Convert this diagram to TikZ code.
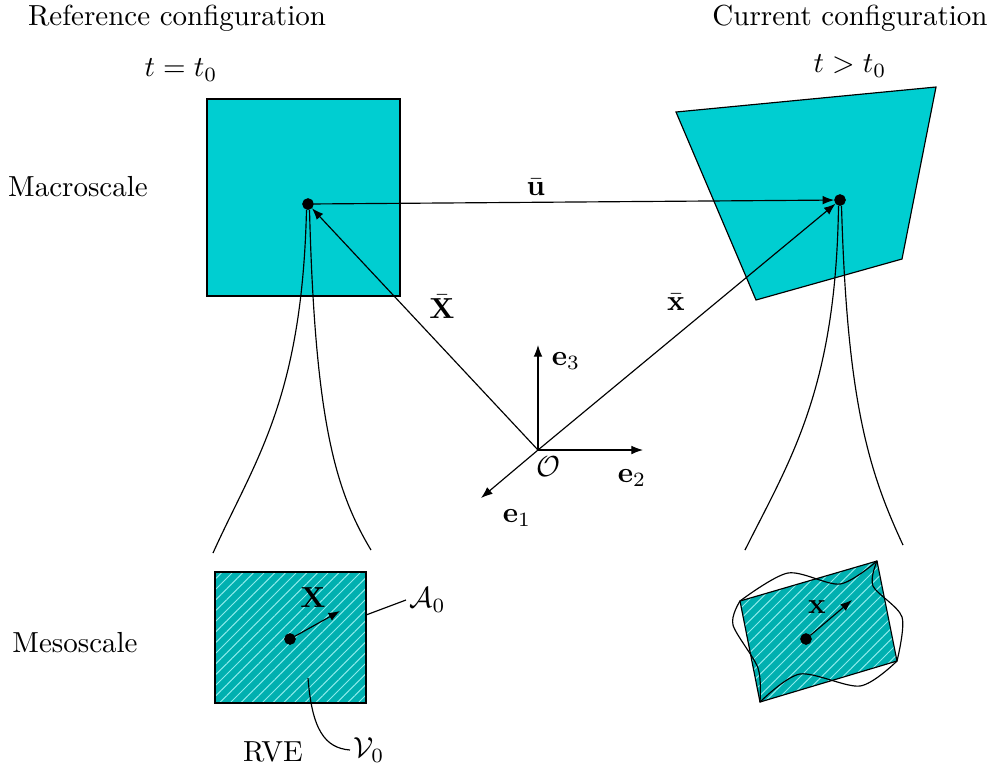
\documentclass[tikz,border=0pt]{standalone}
\usepackage{amsmath,amssymb}
\usepackage{tikz}
\usetikzlibrary{arrows.meta}
\usetikzlibrary{backgrounds}
\usetikzlibrary{patterns.meta}
\pgfdeclarelayer{edgelayer}
\pgfdeclarelayer{nodelayer}
\pgfsetlayers{background,edgelayer,nodelayer,main}
\definecolor{macrofill}{RGB}{0,206,209}
\definecolor{mesofill}{RGB}{0,176,176}
\definecolor{hatchcol}{RGB}{140,235,235}
\tikzstyle{none}=[inner sep=0mm]
\tikzstyle{black dot}=[inner sep=0pt,minimum width=3.6pt,minimum height=3.6pt,fill=black,draw=black,shape=circle]
\tikzstyle{dot}=[black dot]
\tikzstyle{txt}=[inner sep=1pt]
\tikzstyle{vec}=[-{Latex[length=4pt,width=3pt]}]
\tikzstyle{macro}=[draw=black,fill=macrofill]
\tikzstyle{rve}=[fill=mesofill,postaction={pattern={Lines[angle=45,distance=2.6pt,line width=0.35pt]},pattern color=hatchcol},postaction={draw=black}]

\begin{document}
\begin{tikzpicture}[x=0.01212cm,y=-0.01212cm]
	\useasboundingbox (0,0) rectangle (993,773);
	\begin{pgfonlayer}{nodelayer}
		\node [style=dot] (0) at (308, 204) {};
		\node [style=dot] (1) at (840, 200) {};
		\node [style=none] (2) at (538, 450) {};
		\node [style=none] (3) at (538, 345) {};
		\node [style=none] (4) at (643, 450) {};
		\node [style=none] (5) at (481, 498) {};
		\node [style=none] (6) at (213, 553) {};
		\node [style=none] (7) at (371, 550) {};
		\node [style=none] (8) at (745, 550) {};
		\node [style=none] (9) at (903, 545) {};
		\node [style=dot] (10) at (290, 639) {};
		\node [style=none] (11) at (340, 611) {};
		\node [style=dot] (12) at (806, 639) {};
		\node [style=none] (13) at (852, 600) {};
		\node [style=none] (14) at (366, 615) {};
		\node [style=txt, anchor=west] (15) at (406, 600) {$\mathcal{A}_0$};
		\node [style=none] (16) at (308, 678) {};
		\node [style=txt, anchor=west] (17) at (350, 750) {$\mathcal{V}_0$};
		\node [style=txt] (20) at (177, 18) {Reference configuration};
		\node [style=txt] (21) at (850, 18) {Current configuration};
		\node [style=txt] (22) at (181, 70) {$t=t_0$};
		\node [style=txt] (23) at (850, 66) {$t>t_0$};
		\node [style=txt] (24) at (78, 187) {Macroscale};
		\node [style=txt] (25) at (75, 643) {Mesoscale};
		\node [style=txt] (26) at (536, 187) {$\bar{\mathbf{u}}$};
		\node [style=txt] (27) at (442, 307) {$\bar{\mathbf{X}}$};
		\node [style=txt] (28) at (676, 302) {$\bar{\mathbf{x}}$};
		\node [style=txt] (29) at (566, 361) {$\mathbf{e}_3$};
		\node [style=txt] (30) at (632, 478) {$\mathbf{e}_2$};
		\node [style=txt] (31) at (517, 518) {$\mathbf{e}_1$};
		\node [style=txt] (32) at (548, 467) {$\mathcal{O}$};
		\node [style=txt] (33) at (313, 598) {$\mathbf{X}$};
		\node [style=txt] (34) at (817, 607) {$\mathbf{x}$};
		\node [style=txt] (35) at (273, 752) {RVE};
	\end{pgfonlayer}
	\begin{pgfonlayer}{background}
		\draw [style=macro] (207, 99) rectangle (400, 296);
		\draw [style=macro] (676, 112) -- (936, 87) -- (902, 259) -- (756, 300) -- cycle;
		\path [style=rve] (215, 572) rectangle (366, 703);
		\path [style=rve] (740, 601) -- (877, 561) -- (897, 661) -- (760, 702) -- cycle;
	\end{pgfonlayer}
	\begin{pgfonlayer}{edgelayer}
		% macroscale kinematics
		\draw [style=vec] (0) to (1);
		\draw [style=vec] (2.center) to (0);
		\draw [style=vec] (2.center) to (1);
		\draw [style=vec] (2.center) to (3.center);
		\draw [style=vec] (2.center) to (4.center);
		\draw [style=vec] (2.center) to (5.center);
		% zoom to the RVE
		\draw (0.-105) .. controls (302, 400) and (255, 460) .. (6.center);
		\draw (0.-75) .. controls (315, 420) and (335, 490) .. (7.center);
		\draw (1.-105) .. controls (836, 390) and (790, 460) .. (8.center);
		\draw (1.-75) .. controls (847, 400) and (868, 470) .. (9.center);
		% mesoscale
		\draw [style=vec] (10) to (11.center);
		\draw [style=vec] (12) to (13.center);
		\draw (14.center) to (15.west);
		\draw (16.center) .. controls (312, 730) and (325, 748) .. (17.west);
		\draw plot [smooth] coordinates {(740, 601) (788, 573) (840, 584) (877, 561)};
		\draw plot [smooth] coordinates {(877, 561) (873, 586) (902, 617) (897, 661)};
		\draw plot [smooth] coordinates {(897, 661) (860, 686) (800, 674) (760, 702)};
		\draw plot [smooth] coordinates {(760, 702) (758, 668) (733, 625) (740, 601)};
	\end{pgfonlayer}
\end{tikzpicture}
\end{document}
